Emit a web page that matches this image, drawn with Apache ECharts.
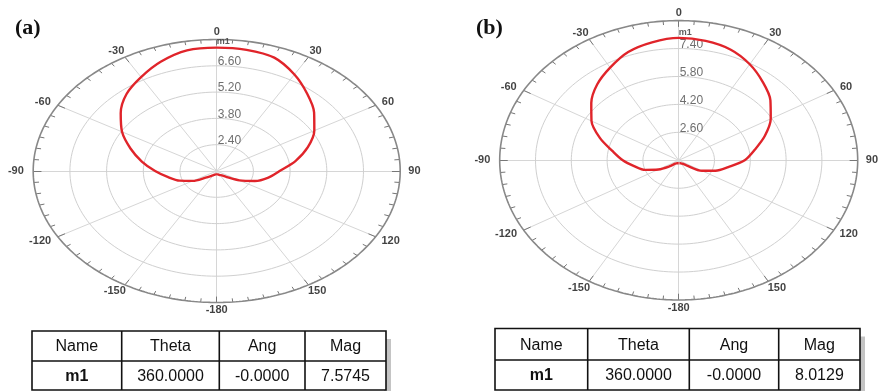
<!DOCTYPE html>
<html><head><meta charset="utf-8">
<script src="https://cdn.jsdelivr.net/npm/echarts@6/dist/echarts.min.js"></script>
<style>html,body{margin:0;padding:0;background:#fff}#c{width:882px;height:391px}</style>
</head><body><div id="c"></div>
<script>
// ---- data ----
const angles = [-180,-170,-160,-150,-140,-130,-120,-110,-100,-90,-80,-70,-60,-50,-40,-30,-20,-10,0,10,20,30,40,50,60,70,80,90,100,110,120,130,140,150,160,170,180];
const magA = [1.18,1.18,1.20,1.25,1.35,1.55,2.05,2.50,2.88,3.35,3.90,4.50,5.17,5.78,6.35,6.77,7.20,7.52,7.57,7.55,7.42,6.93,6.37,5.85,5.30,4.70,4.05,3.40,3.00,2.55,2.00,1.50,1.30,1.25,1.20,1.18,1.18];
const magB = [1.17,1.17,1.18,1.20,1.25,1.55,2.05,2.60,3.00,3.50,4.00,4.75,5.50,6.10,6.67,7.13,7.60,7.86,8.01,7.94,7.75,7.35,6.85,6.35,5.75,5.10,4.45,3.95,3.25,2.75,2.20,1.45,1.25,1.20,1.18,1.17,1.17];
const angleTickLabels = [0,30,60,90,120,150,-180,-150,-120,-90,-60,-30];
const ringTicksA = [2.40,3.80,5.20,6.60];
const ringTicksB = [2.60,4.20,5.80,7.40];
const rangeA = [1.0, 8.0];
const rangeB = [1.0, 9.0];
const markerName = 'm1';
const markerA = [0, 7.5745];
const markerB = [0, 8.0129];
const tableHeader = ['Name','Theta','Ang','Mag'];
const tableRowA = ['m1','360.0000','-0.0000','7.5745'];
const tableRowB = ['m1','360.0000','-0.0000','8.0129'];
const panelLabels = ['(a)','(b)'];

// ---- helpers ----
const rad = d => d*Math.PI/180;
const toXY = (deg,u) => [u*Math.sin(rad(deg)), u*Math.cos(rad(deg))];
const FONT = 'Liberation Sans, Arial, sans-serif';

const grids=[], xAxes=[], yAxes=[], series=[];
function buildPlot(i, box, range, mags, rings, marker){
  grids.push({left:box.left, top:box.top, width:box.width, height:box.height});
  xAxes.push({type:'value', gridIndex:i, min:-1, max:1, show:false});
  yAxes.push({type:'value', gridIndex:i, min:-1, max:1, show:false});
  const norm = r => Math.max(0,(r-range[0])/(range[1]-range[0]));
  const ax = {xAxisIndex:i, yAxisIndex:i};
  const ringVals = rings.map(norm);
  ringVals.forEach(u=>{
    const pts=[]; for(let a=0;a<=360;a+=2) pts.push(toXY(a,u));
    series.push(Object.assign({type:'line', data:pts, showSymbol:false, silent:true, clip:false,
      lineStyle:{color:'#d0d0d0', width:1}, z:1}, ax));
  });
  const outer=[]; for(let a=0;a<=360;a+=1) outer.push(toXY(a,1));
  series.push(Object.assign({type:'line', data:outer, showSymbol:false, silent:true, clip:false,
    lineStyle:{color:'#888888', width:1.6}, z:3}, ax));
  const spokes=[]; for(let a=0;a<360;a+=30) spokes.push({coords:[[0,0], toXY(a,1)]});
  series.push(Object.assign({type:'lines', coordinateSystem:'cartesian2d', data:spokes, silent:true,
    lineStyle:{color:'#d6d6d6', width:1, opacity:1}, z:1}, ax));
  const ticks=[]; for(let a=0;a<360;a+=5) ticks.push({coords:[toXY(a,a%30===0?0.955:0.972), toXY(a,1)]});
  series.push(Object.assign({type:'lines', coordinateSystem:'cartesian2d', data:ticks, silent:true,
    lineStyle:{color:'#777777', width:1, opacity:1}, z:3}, ax));
  series.push(Object.assign({type:'scatter', symbolSize:0, silent:true, clip:false, z:5,
    data:angleTickLabels.map(a=>{
      const s=String(a), w=s.length*6.2;
      return {value:toXY(a,1), label:{formatter:s, offset:[Math.sin(rad(a))*(8+w/2), -Math.cos(rad(a))*7.5]}};
    }),
    label:{show:true, position:'inside', align:'center', verticalAlign:'middle',
      fontFamily:FONT, fontSize:11, fontWeight:'bold', color:'#111'}}, ax));
  series.push(Object.assign({type:'scatter', symbolSize:0, silent:true, clip:false, z:5,
    data:rings.map((r,k)=>({value:[0,ringVals[k]], label:{formatter:r.toFixed(2)}})),
    label:{show:true, position:'inside', align:'left', verticalAlign:'middle', offset:[1,-4],
      fontFamily:FONT, fontSize:12, color:'#4a4a4a'}}, ax));
  series.push(Object.assign({type:'line', data:angles.map((a,k)=>toXY(a,norm(mags[k]))),
    showSymbol:false, smooth:0.3, clip:false, silent:true,
    lineStyle:{color:'#e0242a', width:2.4}, z:6}, ax));
  series.push(Object.assign({type:'scatter', symbolSize:0, silent:true, clip:false, z:7,
    data:[{value:toXY(marker[0],norm(marker[1])), label:{formatter:markerName}}],
    label:{show:true, position:'inside', align:'left', verticalAlign:'bottom', offset:[0,-1],
      fontFamily:FONT, fontSize:9, fontWeight:'bold', color:'#333'}}, ax));
}

buildPlot(0, {left:33.2, top:39.5, width:367, height:263}, rangeA, magA, ringTicksA, markerA);
buildPlot(1, {left:499.7, top:20.6, width:358, height:279.4}, rangeB, magB, ringTicksB, markerB);

// ---- tables & panel labels (graphic) ----
const graphic=[];
function table(t, header, row){
  graphic.push({type:'rect', shape:{x:t.x1-2, y:t.top+8, width:7, height:t.bottom-t.top},
    style:{fill:'#c4c4c4'}, z:9});
  graphic.push({type:'rect', shape:{x:t.x0, y:t.top, width:t.x1-t.x0, height:t.bottom-t.top},
    style:{fill:'#fff', stroke:'#111', lineWidth:1.6}, z:10});
  graphic.push({type:'line', shape:{x1:t.x0, y1:t.mid, x2:t.x1, y2:t.mid}, style:{stroke:'#111', lineWidth:1.6}, z:11});
  t.cols.forEach(c=>graphic.push({type:'line', shape:{x1:c, y1:t.top, x2:c, y2:t.bottom}, style:{stroke:'#111', lineWidth:1.6}, z:11}));
  const edges=[t.x0].concat(t.cols,[t.x1]);
  header.forEach((h,k)=>graphic.push({type:'text', x:(edges[k]+edges[k+1])/2, y:(t.top+t.mid)/2+1,
    style:{text:h, fill:'#111', font:'16px '+FONT, align:'center', verticalAlign:'middle'}, z:12}));
  row.forEach((h,k)=>graphic.push({type:'text', x:(edges[k]+edges[k+1])/2, y:(t.mid+t.bottom)/2+1,
    style:{text:h, fill:'#111', font:(k===0?'bold ':'')+'16px '+FONT, align:'center', verticalAlign:'middle'}, z:12}));
}
table({x0:32, x1:386, top:331, mid:361, bottom:390, cols:[121.7,219.3,305]}, tableHeader, tableRowA);
table({x0:495, x1:860, top:328.5, mid:360, bottom:390, cols:[587.7,689.3,778.7]}, tableHeader, tableRowB);
graphic.push({type:'text', x:15, y:28, style:{text:panelLabels[0], fill:'#111', font:'bold 22px Liberation Serif, serif', verticalAlign:'middle'}});
graphic.push({type:'text', x:476, y:28, style:{text:panelLabels[1], fill:'#111', font:'bold 22px Liberation Serif, serif', verticalAlign:'middle'}});

const chart = echarts.init(document.getElementById('c'), null, {renderer:'canvas'});
chart.setOption({animation:false, backgroundColor:'#fff', grid:grids, xAxis:xAxes, yAxis:yAxes, series:series, graphic:graphic});
</script></body></html>
